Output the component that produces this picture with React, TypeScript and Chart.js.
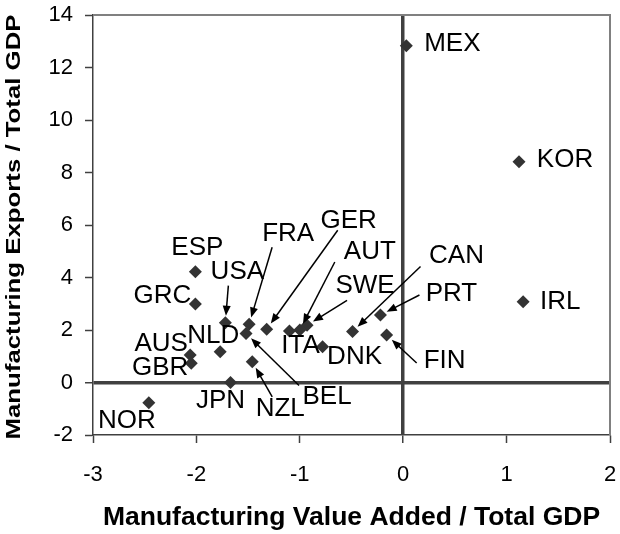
import React, { useEffect, useRef } from "react";
import { Chart, registerables } from "chart.js";

Chart.register(...registerables);

const countries = ["MEX", "KOR", "IRL", "PRT", "CAN", "FIN", "DNK", "SWE", "AUT", "ITA", "GER", "FRA", "BEL", "USA", "NZL", "JPN", "NLD", "ESP", "GRC", "AUS", "GBR", "NOR"];
const valueAdded = [0.03, 1.12, 1.16, -0.22, -0.49, -0.16, -0.78, -0.93, -1.0, -1.1, -1.32, -1.49, -1.52, -1.72, -1.46, -1.67, -1.77, -2.01, -2.01, -2.06, -2.05, -2.46];
const exportsShare = [12.83, 8.41, 3.08, 2.57, 1.94, 1.81, 1.36, 2.18, 2.0, 1.96, 2.03, 2.22, 1.87, 2.28, 0.79, 0.0, 1.17, 4.22, 2.99, 1.05, 0.73, -0.77];

const xTicks = [-3, -2, -1, 0, 1, 2];
const yTicks = [-2, 0, 2, 4, 6, 8, 10, 12, 14];

const xTitle = "Manufacturing Value Added / Total GDP";
const yTitle = "Manufacturing Exports / Total GDP";

// label placement (pixel offsets from the point); arrow start offsets where a leader arrow is used
const labelPlacement: Record<string, { dx: number; dy: number; ax?: number; ay?: number }> = {
  MEX: { dx: 46, dy: -2 },
  KOR: { dx: 46, dy: -2 },
  IRL: { dx: 37, dy: 0 },
  PRT: { dx: 71, dy: -21, ax: 39, ay: -20 },
  CAN: { dx: 104, dy: -76, ax: 68, ay: -65 },
  FIN: { dx: 58, dy: 26, ax: 30, ay: 28 },
  DNK: { dx: 32, dy: 10 },
  SWE: { dx: 58, dy: -39, ax: 40, ay: -25 },
  AUT: { dx: 70, dy: -78, ax: 35, ay: -68 },
  ITA: { dx: 11, dy: 15 },
  GER: { dx: 82, dy: -108, ax: 71, ay: -99 },
  FRA: { dx: 39, dy: -90, ax: 23, ay: -77 },
  BEL: { dx: 81, dy: 63, ax: 53, ay: 52 },
  USA: { dx: 12, dy: -51, ax: 3, ay: -37 },
  NZL: { dx: 28, dy: 47, ax: 20, ay: 35 },
  JPN: { dx: -10, dy: 18 },
  NLD: { dx: -7, dy: -16 },
  ESP: { dx: 2, dy: -24 },
  GRC: { dx: -33, dy: -8 },
  AUS: { dx: -29, dy: -11 },
  GBR: { dx: -31, dy: 4 },
  NOR: { dx: -22, dy: 18 },
};

const FONT = "'Liberation Sans', Arial, sans-serif";

const labelPlugin = {
  id: "countryLabels",
  afterDatasetsDraw(chart: any) {
    const ctx = chart.ctx;
    const xs = chart.scales.x;
    const ys = chart.scales.y;
    const area = chart.chartArea;
    ctx.save();
    // top/right frame
    ctx.strokeStyle = "#808080";
    ctx.lineWidth = 2;
    ctx.beginPath();
    ctx.moveTo(area.left, area.top);
    ctx.lineTo(area.right, area.top);
    ctx.lineTo(area.right, area.bottom);
    ctx.stroke();

    // vertical axis title (tall, narrow lettering as in the reference)
    ctx.save();
    ctx.font = `bold 19.5px ${FONT}`;
    ctx.fillStyle = "#000";
    ctx.textAlign = "center";
    ctx.textBaseline = "alphabetic";
    const w = ctx.measureText(yTitle).width;
    const stretch = (area.bottom - area.top + 5) / w;
    ctx.translate(20, (area.top + area.bottom) / 2 + 2);
    ctx.rotate(-Math.PI / 2);
    ctx.scale(stretch, 1);
    ctx.fillText(yTitle, 0, 0);
    ctx.restore();

    ctx.font = `26px ${FONT}`;
    ctx.textAlign = "center";
    ctx.textBaseline = "middle";
    countries.forEach((c, i) => {
      const px = xs.getPixelForValue(valueAdded[i]);
      const py = ys.getPixelForValue(exportsShare[i]);
      const p = labelPlacement[c];
      ctx.fillStyle = "#000";
      ctx.fillText(c, px + p.dx, py + p.dy);
      if (p.ax !== undefined && p.ay !== undefined) {
        const sx = px + p.ax;
        const sy = py + p.ay;
        const len = Math.hypot(p.ax, p.ay);
        const ux = p.ax / len;
        const uy = p.ay / len;
        const tx = px + ux * 7;
        const ty = py + uy * 7;
        const hl = 10;
        const hw = 4;
        ctx.strokeStyle = "#000";
        ctx.lineWidth = 1.5;
        ctx.beginPath();
        ctx.moveTo(sx, sy);
        ctx.lineTo(tx + ux * hl * 0.8, ty + uy * hl * 0.8);
        ctx.stroke();
        ctx.beginPath();
        ctx.moveTo(tx, ty);
        ctx.lineTo(tx + ux * hl - uy * hw, ty + uy * hl + ux * hw);
        ctx.lineTo(tx + ux * hl + uy * hw, ty + uy * hl - ux * hw);
        ctx.closePath();
        ctx.fill();
      }
    });
    ctx.restore();
  },
};

export default function App() {
  const ref = useRef<HTMLCanvasElement>(null);
  useEffect(() => {
    document.body.style.margin = "0";
    const data = countries.map((c, i) => ({ x: valueAdded[i], y: exportsShare[i] }));
    const chart = new Chart(ref.current!, {
      type: "scatter",
      data: {
        datasets: [
          {
            data,
            pointStyle: "rectRot",
            pointRadius: 6.5,
            backgroundColor: "#333333",
            borderColor: "#333333",
            borderWidth: 0,
          },
        ],
      },
      options: {
        animation: false,
        responsive: false,
        devicePixelRatio: 1,
        layout: { padding: { top: 15, right: 10, left: 0, bottom: 0 } },
        plugins: { legend: { display: false }, tooltip: { enabled: false } },
        scales: {
          x: {
            type: "linear",
            min: -3,
            max: 2,
            afterBuildTicks: (s: any) => {
              s.ticks = xTicks.map((v) => ({ value: v }));
            },
            afterFit: (s: any) => {
              s.height = 99;
              s.paddingLeft = 0;
              s.paddingRight = 0;
            },
            border: { color: "#404040", width: 1.5 },
            grid: {
              color: (c: any) => (c.tick && c.tick.value === 0 ? "#404040" : "rgba(0,0,0,0)"),
              lineWidth: (c: any) => (c.tick && c.tick.value === 0 ? 3.5 : 1),
              tickColor: "#404040",
              tickWidth: 1.5,
              tickLength: 8,
            },
            ticks: { color: "#000", font: { family: FONT, size: 22 }, padding: 19 },
            title: {
              display: true,
              text: xTitle,
              color: "#000",
              font: { family: FONT, size: 26.5, weight: "bold" },
              padding: { top: 4, bottom: 0 },
            },
          },
          y: {
            type: "linear",
            min: -2,
            max: 14,
            afterBuildTicks: (s: any) => {
              s.ticks = yTicks.map((v) => ({ value: v }));
            },
            afterFit: (s: any) => {
              s.width = 93;
              s.paddingTop = 0;
              s.paddingBottom = 0;
            },
            border: { color: "#404040", width: 1.5 },
            grid: {
              color: (c: any) => (c.tick && c.tick.value === 0 ? "#404040" : "rgba(0,0,0,0)"),
              lineWidth: (c: any) => (c.tick && c.tick.value === 0 ? 3.5 : 1),
              tickColor: "#404040",
              tickWidth: 1.5,
              tickLength: 8,
            },
            ticks: { color: "#000", font: { family: FONT, size: 22 }, padding: 12 },
            title: { display: false },
          },
        },
      },
      plugins: [labelPlugin],
    });
    return () => chart.destroy();
  }, []);
  return <canvas ref={ref} width={620} height={534} style={{ display: "block" }} />;
}
